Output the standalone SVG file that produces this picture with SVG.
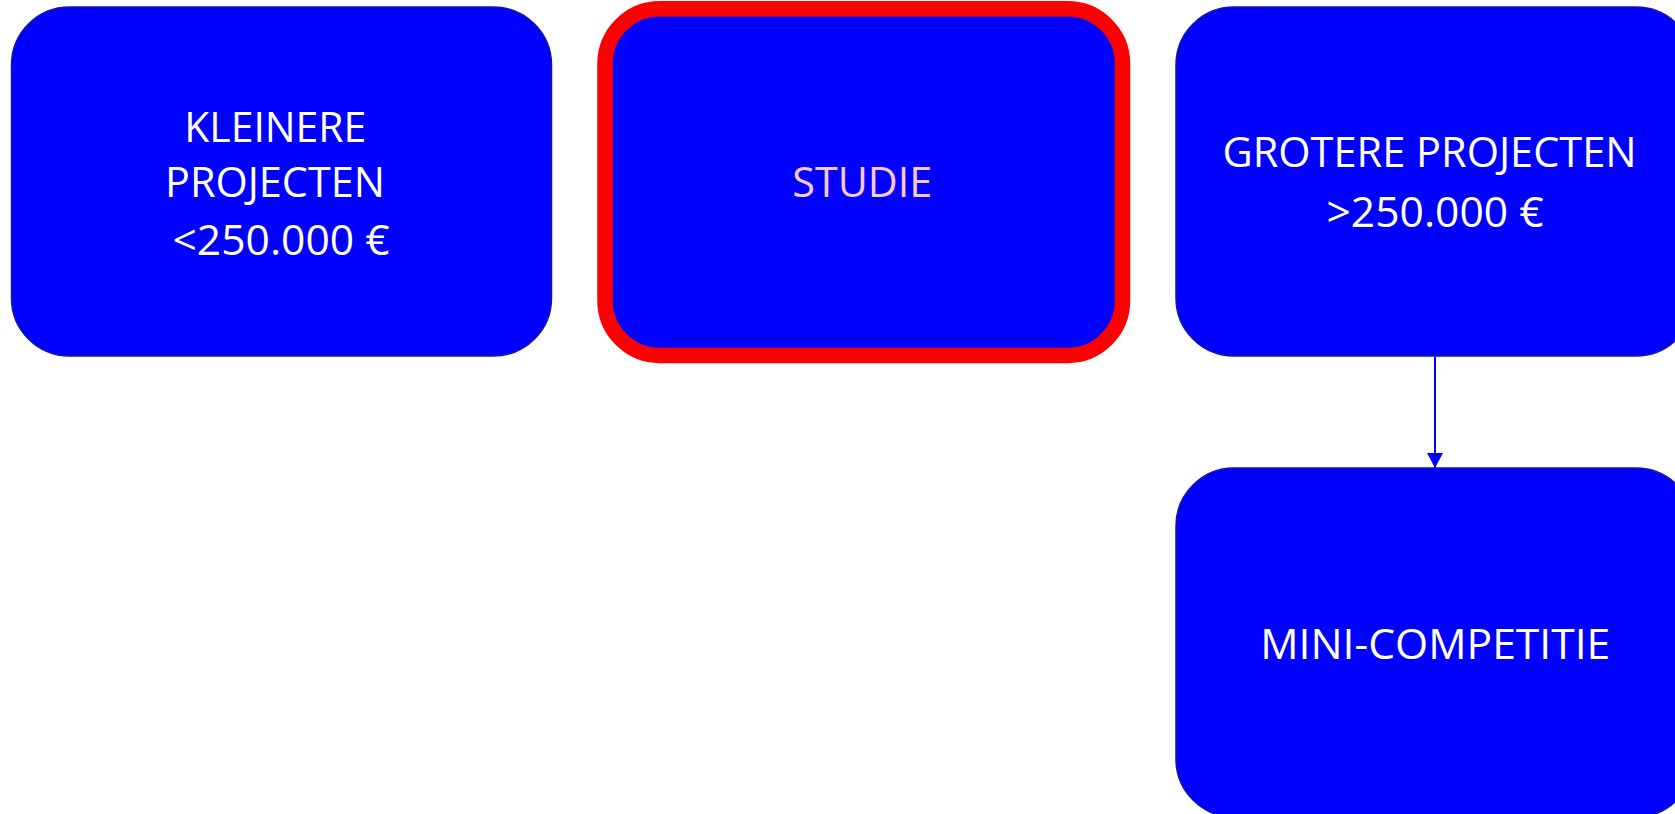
<svg xmlns="http://www.w3.org/2000/svg" width="1675" height="814" viewBox="0 0 1675 814">
<style>
.box{fill:#0000FF;stroke:#1414A8;stroke-width:1.5}
.hl{fill:#0000FF;stroke:#FF0000;stroke-width:15.5}
.t{font-family:"Open Sans","Liberation Sans",sans-serif;font-size:42px;fill:#FFFFFF;text-anchor:middle}
.pink{fill:#F9C8C8}
.conn{stroke:#0000FF;stroke-width:2;fill:none}
</style>
<defs>
<marker id="arr" markerUnits="userSpaceOnUse" markerWidth="16" markerHeight="16" refX="15" refY="8" orient="auto">
<path d="M0,0 L15,8 L0,16 Z" fill="#0000FF"/>
</marker>
</defs>
<rect width="1675" height="814" fill="#FFFFFF"/>
<g id="connectors">
<line class="conn" x1="1435" y1="357" x2="1435" y2="468" marker-end="url(#arr)"/>
</g>
<g id="kleinere">
<rect class="box" x="11.5" y="7" width="540" height="349" rx="58" ry="58"/>
<text class="t" x="275.3" y="141.7" textLength="182" lengthAdjust="spacingAndGlyphs">KLEINERE</text>
<text class="t" x="275" y="197" textLength="220" lengthAdjust="spacingAndGlyphs">PROJECTEN</text>
<text class="t" x="281" y="255" textLength="217" lengthAdjust="spacingAndGlyphs">&lt;250.000 €</text>
</g>
<g id="studie">
<rect class="hl" x="605" y="8.75" width="517.5" height="346.75" rx="55" ry="55"/>
<text class="t pink" x="862.3" y="196.7" textLength="140" lengthAdjust="spacingAndGlyphs">STUDIE</text>
</g>
<g id="grotere">
<rect class="box" x="1176" y="7" width="518" height="349" rx="58" ry="58"/>
<text class="t" x="1429.5" y="167.3" textLength="414" lengthAdjust="spacingAndGlyphs">GROTERE PROJECTEN</text>
<text class="t" x="1435" y="227" textLength="217" lengthAdjust="spacingAndGlyphs">&gt;250.000 €</text>
</g>
<g id="mini">
<rect class="box" x="1176" y="468" width="518" height="349" rx="58" ry="58"/>
<text class="t" x="1435.3" y="659.3" textLength="350" lengthAdjust="spacingAndGlyphs">MINI-COMPETITIE</text>
</g>
</svg>
